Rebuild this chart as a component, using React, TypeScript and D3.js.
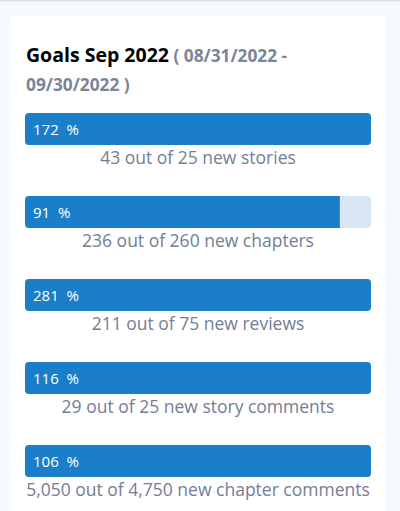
import React from "react";
import * as d3 from "d3";

const goalNames = ["new stories", "new chapters", "new reviews", "new story comments", "new chapter comments"];
const actuals = [43, 236, 211, 29, 5050];
const targets = [25, 260, 75, 25, 4750];
const percents = [172, 91, 281, 116, 106];
const titleText = "Goals Sep 2022";
const rangeStart = "08/31/2022";
const rangeEnd = "09/30/2022";

const W = 400;
const H = 511;

export default function App() {
  const x = d3.scaleLinear().domain([0, 100]).range([25, 371]).clamp(true);
  const y = d3.scaleBand<number>().domain(d3.range(goalNames.length)).range([113, 528]).paddingInner(0).paddingOuter(0);
  const fmt = d3.format(",");
  const barH = 32;
  const font = "'Open Sans', sans-serif";
  return (
    <svg width={W} height={H} style={{ position: "fixed", left: 0, top: 0 }} fontFamily={font}>
      <rect x={0} y={0} width={W} height={H} fill="#f5f8fc" />
      <rect x={0} y={0} width={W} height={1.5} fill="#dcdfe3" />
      <rect x={10} y={16} width={376} height={H} rx={5} fill="#ffffff" />
      <text x={26} y={62} fontSize={19.5} fontWeight={700} fill="#000">
        {titleText}
        <tspan fill="#7a8599" fontSize={17.3}>{` ( ${rangeStart} -`}</tspan>
      </text>
      <text x={26} y={91} fontSize={17.3} fontWeight={700} fill="#7a8599">{`${rangeEnd} )`}</text>
      {goalNames.map((name, i) => {
        const top = y(i)!;
        return (
          <g key={name}>
            <rect x={x(0)} y={top} width={x(100) - x(0)} height={barH} rx={4} fill="#d8e6f3" />
            <clipPath id={`c${i}`}>
              <rect x={x(0)} y={top} width={x(100) - x(0)} height={barH} rx={4} />
            </clipPath>
            <rect x={x(0)} y={top} width={x(percents[i]) - x(0)} height={barH} fill="#1a7fc8" clipPath={`url(#c${i})`} />
            <text x={33} y={top + 21.5} fontSize={15} fill="#ffffff" style={{ whiteSpace: "pre" }}>{`${percents[i]}  %`}</text>
            <text x={(x(0) + x(100)) / 2} y={top + 51} fontSize={17.5} fill="#747d96" textAnchor="middle">
              {`${fmt(actuals[i])} out of ${fmt(targets[i])} ${name}`}
            </text>
          </g>
        );
      })}
    </svg>
  );
}
